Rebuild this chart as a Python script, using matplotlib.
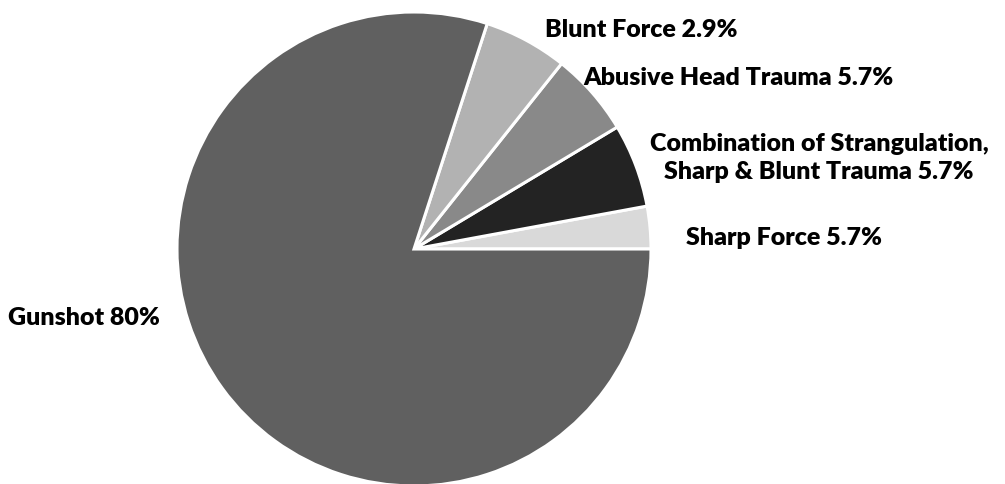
import matplotlib.pyplot as plt

# slices counterclockwise from 3 o'clock
labels = ["Sharp Force 5.7%",
          "Combination of Strangulation,\nSharp & Blunt Trauma 5.7%",
          "Abusive Head Trauma 5.7%",
          "Blunt Force 2.9%",
          "Gunshot 80%"]
values = [2.9, 5.7, 5.7, 5.7, 80]
colors = ["#d9d9d9", "#232323", "#898989", "#b2b2b2", "#606060"]

# label anchor (pixel x, pixel y, horizontal alignment)
label_pos = [(686, 238, "left"),
             (819, 158, "center"),
             (583, 78, "left"),
             (545, 30, "left"),
             (8, 318, "left")]

W, H = 1005, 485
fig = plt.figure(figsize=(W / 100, H / 100), dpi=100)
r = 237
cx, cy = 414, 250
ax = fig.add_axes([(cx - r) / W, (H - cy - r) / H, 2 * r / W, 2 * r / H])
ax.pie(values, colors=colors, startangle=0, counterclock=True, radius=1,
       wedgeprops=dict(edgecolor="white", linewidth=2.2))
ax.set_xlim(-1, 1)
ax.set_ylim(-1, 1)
ax.set_aspect("equal")
ax.axis("off")

for lab, (px, py, ha) in zip(labels, label_pos):
    fig.text(px / W, 1 - py / H, lab, ha=ha, va="center", multialignment="center",
             fontsize=18, fontweight="heavy", family=["Lato", "DejaVu Sans"],
             linespacing=1.3)

fig.savefig("out.png", dpi=100)
